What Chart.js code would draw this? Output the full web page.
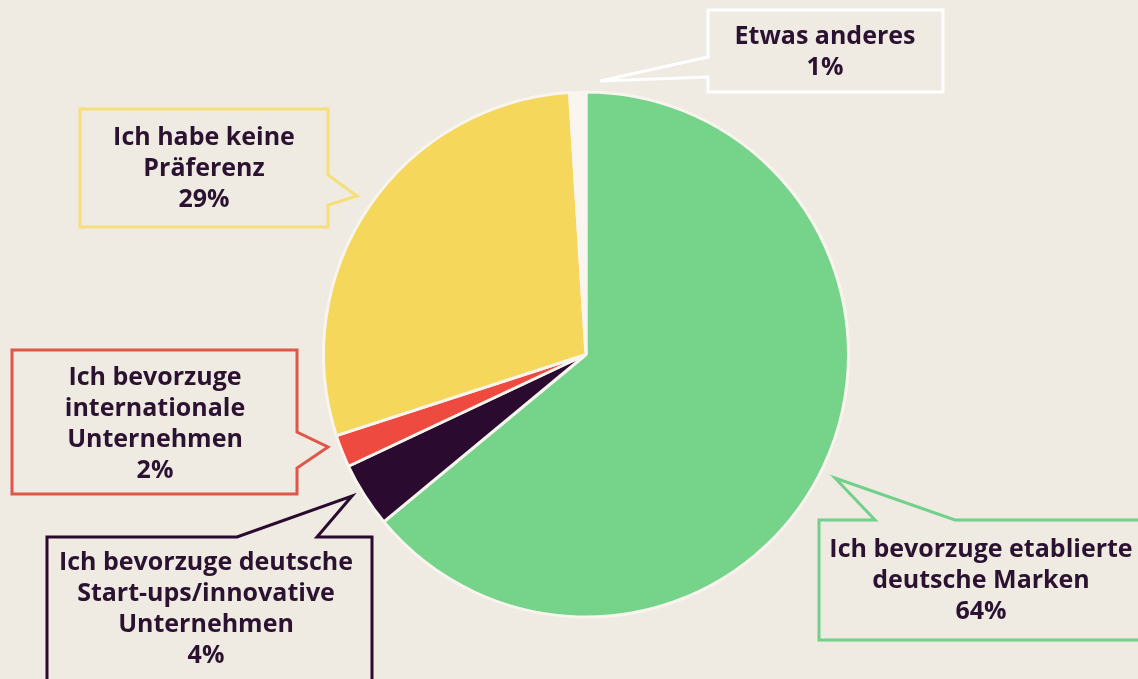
<!DOCTYPE html>
<html>
<head>
<meta charset="utf-8">
<script src="https://cdn.jsdelivr.net/npm/chart.js@4.4.1/dist/chart.umd.min.js"></script>
<style>
    html, body { margin: 0; padding: 0; background: #efebe3; }
    #wrap { width: 1138px; height: 679px; position: relative; }
</style>
</head>
<body>
<div id="wrap"><canvas id="pieChart"></canvas></div>
<script>
// Survey answers, clockwise from 12 o'clock
const categories = [
    'Ich bevorzuge etablierte deutsche Marken',
    'Ich bevorzuge deutsche Start-ups/innovative Unternehmen',
    'Ich bevorzuge internationale Unternehmen',
    'Ich habe keine Präferenz',
    'Etwas anderes'
];
const labelLines = [
    ['Ich bevorzuge etablierte', 'deutsche Marken'],
    ['Ich bevorzuge deutsche', 'Start-ups/innovative', 'Unternehmen'],
    ['Ich bevorzuge', 'internationale', 'Unternehmen'],
    ['Ich habe keine', 'Präferenz'],
    ['Etwas anderes']
];
const shares = [64, 4, 2, 29, 1];

const sliceColors = ['#76d38a', '#2a0a2e', '#ef4a3f', '#f5d85b', '#faf5ef'];
const boxColors = ['#72d08a', '#2a0a2e', '#e0574a', '#f6df78', '#ffffff'];

// speech bubble outlines (page pixels), one per category
const bubbles = [
    { pts: [[819,520],[875,520],[835,478],[955,520],[1150,520],[1150,640],[819,640]], cx: 981, y0: 550 },
    { pts: [[47,537],[237,537],[352,496],[317,537],[372,537],[372,700],[47,700]], cx: 206, y0: 563 },
    { pts: [[12,350],[297,350],[297,432],[328,447],[297,468],[297,494],[12,494]], cx: 155, y0: 378 },
    { pts: [[80,109],[328,109],[328,175],[357,196],[328,205],[328,227],[80,227]], cx: 204, y0: 138 },
    { pts: [[708,10],[943,10],[943,92],[708,92],[708,77],[600,81],[708,57]], cx: 825, y0: 37 }
];

const calloutPlugin = {
    id: 'callouts',
    afterDraw(chart) {
        const ctx = chart.ctx;
        ctx.save();
        bubbles.forEach((b, i) => {
            ctx.beginPath();
            b.pts.forEach((p, j) => j ? ctx.lineTo(p[0], p[1]) : ctx.moveTo(p[0], p[1]));
            ctx.closePath();
            ctx.lineWidth = 3;
            ctx.lineJoin = 'miter';
            ctx.strokeStyle = boxColors[i];
            ctx.stroke();

            const lines = labelLines[i].concat([shares[i] + '%']);
            ctx.fillStyle = '#2b1230';
            ctx.font = 'bold 25px "Open Sans"';
            ctx.textAlign = 'center';
            ctx.textBaseline = 'middle';
            lines.forEach((t, k) => ctx.fillText(t, b.cx, b.y0 + k * 31));
        });
        ctx.restore();
    }
};

const pieChart = new Chart(document.getElementById('pieChart'), {
    type: 'pie',
    data: {
        labels: categories,
        datasets: [{
            data: shares,
            backgroundColor: sliceColors,
            borderColor: '#f8f4ee',
            borderWidth: 3
        }]
    },
    options: {
        responsive: true,
        maintainAspectRatio: false,
        animation: false,
        events: [],
        layout: {
            padding: { top: 90, bottom: 60, left: 322, right: 288 }
        },
        plugins: {
            legend: { display: false },
            tooltip: { enabled: false }
        }
    },
    plugins: [calloutPlugin]
});
</script>
</body>
</html>
